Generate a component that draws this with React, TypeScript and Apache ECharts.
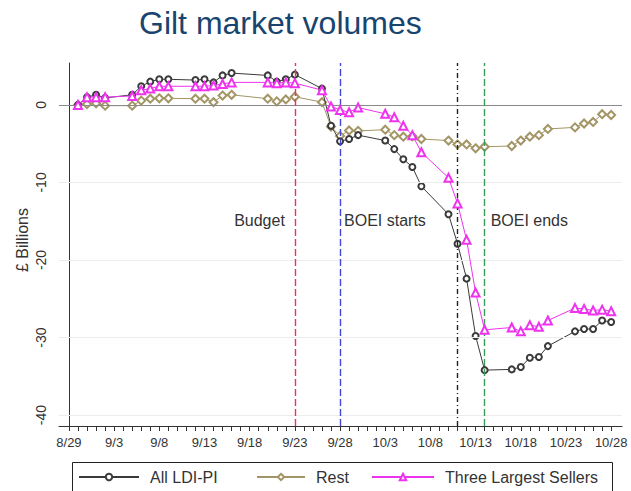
import React, { useEffect, useRef } from "react";
import * as echarts from "echarts";

// Trading dates (m/d, 2022) and series values (£ billions, cumulative)
const dates = [
  "8/30", "8/31", "9/1", "9/2",
  "9/5", "9/6", "9/7", "9/8", "9/9",
  "9/12", "9/13", "9/14", "9/15", "9/16",
  "9/20", "9/21", "9/22", "9/23",
  "9/26", "9/27", "9/28", "9/29", "9/30",
  "10/3", "10/4", "10/5", "10/6", "10/7",
  "10/10", "10/11", "10/12", "10/13", "10/14",
  "10/17", "10/18", "10/19", "10/20", "10/21",
  "10/24", "10/25", "10/26", "10/27", "10/28",
];

const allLdiPi = [
  0, 1.0, 1.3, 0.9,
  1.3, 2.4, 3.0, 3.3, 3.3,
  3.2, 3.3, 2.9, 3.8, 4.1,
  3.8, 3.0, 3.3, 3.9,
  2.1, -2.7, -4.7, -4.4, -3.9,
  -4.6, -5.7, -7.0, -8.0, -10.5,
  -14.1, -17.9, -22.4, -29.8, -34.2,
  -34.1, -33.8, -32.6, -32.5, -31.1,
  -29.2, -28.9, -28.9, -27.8, -28.0,
];

const rest = [
  0, 0.1, 0.2, -0.1,
  -0.1, 0.55, 0.8, 0.85, 0.85,
  0.8, 0.8, 0.35, 1.2, 1.3,
  0.8, 0.45, 0.7, 1.05,
  0.35, -2.8, -4.0, -3.3, -3.35,
  -3.2, -3.9, -4.1, -4.05, -4.4,
  -4.6, -5.1, -5.1, -5.6, -5.4,
  -5.3, -4.6, -4.1, -3.9, -3.1,
  -2.9, -2.4, -2.2, -1.2, -1.3,
];

const threeLargest = [
  0, 1.0, 1.0, 1.0,
  1.15, 1.9, 2.1, 2.4, 2.4,
  2.4, 2.4, 2.5, 2.7, 2.9,
  2.9, 2.8, 2.9, 2.8,
  1.9, -0.2, -0.65, -0.95, -0.35,
  -1.15, -1.6, -2.7, -3.9, -6.1,
  -9.4, -12.7, -17.4, -24.2, -29.0,
  -28.7, -29.2, -28.4, -28.6, -27.8,
  -26.2, -26.3, -26.5, -26.4, -26.6,
];

const seriesNames = ["All LDI-PI", "Rest", "Three Largest Sellers"];
const xTickLabels = ["8/29", "9/3", "9/8", "9/13", "9/18", "9/23", "9/28", "10/3", "10/8", "10/13", "10/18", "10/23", "10/28"];
const yTickValues = [0, -10, -20, -30, -40];
const gridValues = [-10, -20, -30, -40];

const eventDates = ["9/23", "9/28", "10/11", "10/14"];
const annotationTexts = ["Budget", "BOEI starts", "BOEI ends"];
const annotationDates = ["9/23", "9/28", "10/14"];
const annotationValue = -14.9;

const FONT = "'Liberation Sans', Arial, sans-serif";

// day index from 8/29
function dayOf(md: string): number {
  const [m, d] = md.split("/").map(Number);
  if (m === 8) return d - 29;
  if (m === 9) return d + 2;
  return d + 32;
}
function labelOf(day: number): string {
  const d = Math.round(day);
  if (d <= 2) return `8/${d + 29}`;
  if (d <= 32) return `9/${d - 2}`;
  return `10/${d - 32}`;
}

export default function App() {
  const ref = useRef<HTMLDivElement>(null);

  useEffect(() => {
    if (!ref.current) return;
    const chart = echarts.init(ref.current, undefined, { renderer: "svg" });

    const days = dates.map(dayOf);
    const firstDay = dayOf(xTickLabels[0]);
    const lastDay = dayOf(xTickLabels[xTickLabels.length - 1]);
    const minorTicks: number[] = [];
    for (let d = firstDay; d <= lastDay; d++) minorTicks.push(d);

    const lineStyles = [
      { color: "#f0305c", type: [7, 3] },
      { color: "#4646d6", type: [7, 3] },
      { color: "#222222", type: [5, 3, 1, 3] },
      { color: "#3c9a5a", type: [7, 3] },
    ];

    const legendLayout = [
      { left: 78, itemWidth: 60 },
      { left: 256, itemWidth: 48 },
      { left: 371, itemWidth: 62 },
    ];

    const option: any = {
      animation: false,
      backgroundColor: "#ffffff",
      textStyle: { fontFamily: FONT },
      title: {
        text: "Gilt market volumes",
        left: 134,
        top: 2,
        textStyle: { fontFamily: FONT, fontSize: 32, fontWeight: "normal", color: "#17456e" },
      },
      graphic: [
        {
          type: "text",
          x: 22,
          y: 240,
          rotation: Math.PI / 2,
          style: {
            text: "£ Billions",
            font: `16px ${FONT}`,
            fill: "#333333",
            align: "center",
            verticalAlign: "middle",
          },
        },
        {
          type: "rect",
          shape: { x: 72.5, y: 462.5, width: 540, height: 60 },
          style: { fill: "none", stroke: "#222222", lineWidth: 1 },
          silent: true,
        },
      ],
      grid: { left: 59, right: 9, top: 63, bottom: 65 },
      legend: legendLayout.map((l, i) => ({
        left: l.left,
        top: 469,
        itemWidth: l.itemWidth,
        itemHeight: 8,
        padding: 0,
        data: [seriesNames[i]],
        textStyle: { fontFamily: FONT, fontSize: 16, color: "#333333", padding: [0, 0, 0, 6] },
      })),
      xAxis: {
        type: "value",
        min: -1.1,
        max: 61.2,
        axisLine: { show: true, onZero: false, lineStyle: { color: "#333333", width: 1 } },
        axisTick: { show: true, length: 5, customValues: minorTicks, lineStyle: { color: "#333333" } },
        axisLabel: {
          customValues: xTickLabels.map(dayOf),
          formatter: (v: number) => labelOf(v),
          fontSize: 13,
          color: "#333333",
          margin: 10,
          fontFamily: FONT,
        },
        splitLine: { show: false },
      },
      yAxis: {
        type: "value",
        min: -41.4,
        max: 5.4,
        axisLine: { show: true, lineStyle: { color: "#333333", width: 1 } },
        axisTick: { show: true, length: 5, customValues: yTickValues, lineStyle: { color: "#333333" } },
        axisLabel: {
          customValues: yTickValues,
          rotate: 90,
          fontSize: 14,
          color: "#333333",
          margin: 11,
          fontFamily: FONT,
        },
        splitLine: { show: false },
      },
      series: [
        {
          name: "Grid",
          type: "line",
          data: [],
          silent: true,
          markLine: {
            silent: true,
            symbol: "none",
            label: { show: false },
            data: [
              ...gridValues.map((v) => ({ yAxis: v, lineStyle: { color: "#ececec", width: 1, type: "solid" } })),
              { yAxis: 0, lineStyle: { color: "#8a8a8a", width: 1, type: "solid" } },
              ...eventDates.map((d, i) => ({
                xAxis: dayOf(d),
                lineStyle: { color: lineStyles[i].color, width: 1.4, type: lineStyles[i].type },
              })),
            ],
          },
          markPoint: {
            silent: true,
            symbol: "circle",
            symbolSize: 0,
            data: annotationTexts.map((t, i) => ({
              coord: [dayOf(annotationDates[i]), annotationValue],
              label: {
                show: true,
                formatter: t,
                position: i === 0 ? "left" : "right",
                distance: i === 0 ? 10 : i === 1 ? 4 : 6,
                fontSize: 16,
                color: "#333333",
                fontFamily: FONT,
              },
            })),
          },
        },
        {
          name: seriesNames[0],
          type: "line",
          data: days.map((d, i) => [d, allLdiPi[i]]),
          symbol: "emptyCircle",
          symbolSize: 6,
          color: "#3a3a3a",
          lineStyle: { width: 1, color: "#3a3a3a" },
          itemStyle: { color: "#3a3a3a", borderWidth: 1 },
          z: 4,
        },
        {
          name: seriesNames[1],
          type: "line",
          data: days.map((d, i) => [d, rest[i]]),
          symbol: "emptyDiamond",
          symbolSize: 8,
          color: "#a39566",
          lineStyle: { width: 1, color: "#a39566" },
          itemStyle: { color: "#a39566", borderWidth: 1 },
          z: 3,
        },
        {
          name: seriesNames[2],
          type: "line",
          data: days.map((d, i) => [d, threeLargest[i]]),
          symbol: "emptyTriangle",
          symbolSize: 8,
          color: "#ee33ee",
          lineStyle: { width: 1, color: "#ee33ee" },
          itemStyle: { color: "#ee33ee", borderWidth: 1 },
          z: 5,
        },
      ],
    };

    chart.setOption(option);
    return () => chart.dispose();
  }, []);

  return (
    <div
      ref={ref}
      style={{ position: "fixed", left: 0, top: 0, width: 631, height: 491, background: "#fff" }}
    />
  );
}
